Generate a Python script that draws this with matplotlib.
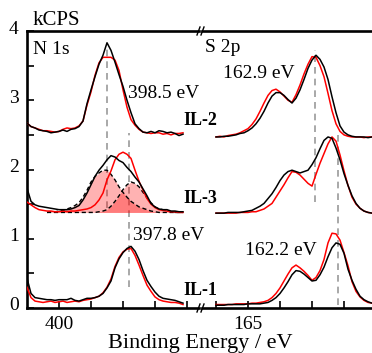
import matplotlib
matplotlib.use('Agg')
import matplotlib.pyplot as plt
from matplotlib.lines import Line2D
from matplotlib.transforms import ScaledTranslation

plt.rcParams['font.family'] = ['Liberation Serif', 'DejaVu Serif']

# Binding energy grids (eV)
n1s_energy = [401.0, 400.875, 400.75, 400.625, 400.5, 400.375, 400.25, 400.125, 400.0, 399.875,
              399.75, 399.625, 399.5, 399.375, 399.25, 399.125, 399.0, 398.875, 398.75, 398.625,
              398.5, 398.375, 398.25, 398.125, 398.0, 397.875, 397.75, 397.625, 397.5, 397.375,
              397.25, 397.125, 397.0, 396.875, 396.75, 396.625, 396.5, 396.375, 396.25, 396.125]
s2p_energy = [166.0, 165.875, 165.75, 165.625, 165.5, 165.375, 165.25, 165.125, 165.0, 164.875,
              164.75, 164.625, 164.5, 164.375, 164.25, 164.125, 164.0, 163.875, 163.75, 163.625,
              163.5, 163.375, 163.25, 163.125, 163.0, 162.875, 162.75, 162.625, 162.5, 162.375,
              162.25, 162.125, 162.0, 161.875, 161.75, 161.625, 161.5, 161.375, 161.25, 161.125]

# N 1s spectra (kCPS, stacked)
n1s_il2_black = [2.67, 2.62, 2.60, 2.57, 2.56, 2.55, 2.53, 2.54, 2.55, 2.57,
                 2.55, 2.58, 2.59, 2.62, 2.70, 2.95, 3.15, 3.34, 3.52, 3.65,
                 3.83, 3.72, 3.55, 3.37, 3.20, 3.00, 2.82, 2.66, 2.59, 2.54,
                 2.53, 2.55, 2.53, 2.56, 2.55, 2.53, 2.54, 2.52, 2.49, 2.51]
n1s_il2_red = [2.67, 2.62, 2.60, 2.58, 2.56, 2.56, 2.55, 2.54, 2.55, 2.58,
               2.60, 2.59, 2.60, 2.63, 2.70, 2.93, 3.12, 3.36, 3.54, 3.62,
               3.62, 3.62, 3.58, 3.43, 3.15, 2.90, 2.72, 2.64, 2.58, 2.54,
               2.53, 2.52, 2.53, 2.53, 2.51, 2.52, 2.50, 2.52, 2.52, 2.53]
n1s_il3_black = [1.73, 1.54, 1.49, 1.47, 1.46, 1.45, 1.44, 1.43, 1.42, 1.42,
                 1.42, 1.43, 1.45, 1.48, 1.56, 1.66, 1.78, 1.90, 1.99, 2.06,
                 2.14, 2.20, 2.18, 2.13, 2.10, 2.03, 1.97, 1.89, 1.82, 1.72,
                 1.62, 1.51, 1.46, 1.43, 1.42, 1.42, 1.40, 1.40, 1.39, 1.39]
n1s_il3_red = [1.53, 1.49, 1.45, 1.42, 1.41, 1.40, 1.40, 1.39, 1.39, 1.40,
               1.39, 1.40, 1.40, 1.41, 1.42, 1.43, 1.45, 1.49, 1.56, 1.66,
               1.85, 1.98, 2.14, 2.22, 2.25, 2.22, 2.16, 1.99, 1.83, 1.70,
               1.58, 1.50, 1.45, 1.42, 1.41, 1.40, 1.39, 1.39, 1.38, 1.38]
n1s_il1_black = [0.43, 0.21, 0.15, 0.14, 0.13, 0.12, 0.12, 0.11, 0.12, 0.12,
                 0.12, 0.14, 0.11, 0.10, 0.12, 0.14, 0.14, 0.15, 0.17, 0.21,
                 0.29, 0.39, 0.58, 0.71, 0.80, 0.86, 0.89, 0.82, 0.70, 0.54,
                 0.40, 0.31, 0.23, 0.17, 0.14, 0.13, 0.12, 0.11, 0.09, 0.07]
n1s_il1_red = [0.30, 0.15, 0.10, 0.09, 0.08, 0.09, 0.10, 0.08, 0.09, 0.10,
               0.08, 0.09, 0.10, 0.09, 0.11, 0.12, 0.13, 0.15, 0.17, 0.22,
               0.30, 0.42, 0.60, 0.73, 0.81, 0.85, 0.86, 0.76, 0.62, 0.47,
               0.33, 0.24, 0.16, 0.12, 0.10, 0.09, 0.08, 0.08, 0.07, 0.05]

# IL-3 N 1s fit components
fit_energy = n1s_energy[5:]
fit_baseline = 1.38
fit_comp1 = [1.38, 1.39, 1.39, 1.40, 1.41, 1.43, 1.45, 1.48, 1.52, 1.60,
             1.70, 1.82, 1.90, 1.95, 1.99, 1.99, 1.93, 1.85, 1.75, 1.67,
             1.60, 1.54, 1.50, 1.46, 1.44, 1.42, 1.40, 1.39, 1.38, 1.38,
             1.38, 1.38, 1.38, 1.38, 1.38]
fit_comp2 = [1.38, 1.38, 1.38, 1.38, 1.38, 1.38, 1.38, 1.38, 1.38, 1.38,
             1.38, 1.38, 1.38, 1.39, 1.40, 1.42, 1.47, 1.54, 1.62, 1.71,
             1.78, 1.82, 1.80, 1.75, 1.67, 1.59, 1.52, 1.46, 1.43, 1.42,
             1.40, 1.39, 1.38, 1.38, 1.38]

# S 2p spectra
s2p_il2_black = [2.47, 2.47, 2.48, 2.48, 2.49, 2.50, 2.52, 2.53, 2.56, 2.60,
                 2.66, 2.74, 2.84, 2.96, 3.06, 3.11, 3.11, 3.07, 3.01, 2.96,
                 3.03, 3.15, 3.30, 3.46, 3.58, 3.65, 3.59, 3.48, 3.30, 3.05,
                 2.82, 2.63, 2.54, 2.50, 2.48, 2.47, 2.47, 2.47, 2.46, 2.47]
s2p_il2_red = [2.47, 2.48, 2.47, 2.49, 2.50, 2.51, 2.53, 2.56, 2.59, 2.65,
               2.73, 2.84, 2.96, 3.07, 3.14, 3.16, 3.12, 3.06, 3.00, 2.97,
               3.08, 3.22, 3.38, 3.52, 3.63, 3.62, 3.50, 3.34, 3.10, 2.85,
               2.66, 2.55, 2.50, 2.48, 2.47, 2.47, 2.47, 2.46, 2.47, 2.47]
s2p_il3_black = [1.37, 1.37, 1.37, 1.38, 1.38, 1.38, 1.38, 1.39, 1.40, 1.41,
                 1.44, 1.47, 1.51, 1.58, 1.65, 1.74, 1.84, 1.92, 1.97, 1.99,
                 1.97, 1.95, 1.97, 1.99, 2.07, 2.17, 2.30, 2.42, 2.47, 2.45,
                 2.31, 2.14, 1.94, 1.77, 1.62, 1.51, 1.44, 1.40, 1.38, 1.37]
s2p_il3_red = [1.37, 1.37, 1.37, 1.37, 1.37, 1.37, 1.38, 1.38, 1.38, 1.39,
               1.39, 1.41, 1.43, 1.47, 1.51, 1.60, 1.69, 1.78, 1.88, 1.97,
               1.96, 1.92, 1.86, 1.80, 1.76, 1.93, 2.09, 2.23, 2.37, 2.47,
               2.41, 2.21, 1.98, 1.77, 1.60, 1.50, 1.44, 1.40, 1.38, 1.37]
s2p_il1_black = [0.04, 0.04, 0.04, 0.05, 0.05, 0.05, 0.05, 0.05, 0.06, 0.06,
                 0.06, 0.06, 0.07, 0.08, 0.11, 0.15, 0.21, 0.29, 0.38, 0.48,
                 0.54, 0.53, 0.49, 0.44, 0.39, 0.40, 0.48, 0.59, 0.74, 0.87,
                 0.94, 0.92, 0.79, 0.56, 0.40, 0.27, 0.17, 0.12, 0.09, 0.07]
s2p_il1_red = [0.05, 0.05, 0.05, 0.05, 0.05, 0.06, 0.06, 0.06, 0.06, 0.07,
               0.07, 0.08, 0.09, 0.11, 0.15, 0.21, 0.29, 0.39, 0.49, 0.58,
               0.62, 0.58, 0.53, 0.47, 0.40, 0.44, 0.54, 0.70, 0.94, 1.08,
               1.07, 0.98, 0.80, 0.61, 0.38, 0.24, 0.16, 0.11, 0.08, 0.07]

# peak position markers: energy and vertical extent
n1s_marks = [398.5, 397.8]
n1s_mark_spans = [(1.45, 3.78), (0.30, 2.52)]
s2p_marks = [162.9, 162.2]
s2p_mark_spans = [(1.53, 3.72), (0.04, 2.52)]

W, H = 372, 353


def fx(px):
    return px / W


def fy(py):
    return 1 - py / H


fig = plt.figure(figsize=(W / 100, H / 100), dpi=100)
ax1 = fig.add_axes([fx(27), fy(308), fx(199) - fx(27), fy(31) - fy(308)])
ax2 = fig.add_axes([fx(202), fy(308), fx(372) - fx(202), fy(31) - fy(308)], sharey=ax1)

lw = 1.1
mark_style = dict(color='#999999', lw=1.2, ls=(0, (4, 3)))

# N 1s panel
for e, (y0, y1) in zip(n1s_marks, n1s_mark_spans):
    ax1.plot([e, e], [y0, y1], zorder=1, **mark_style)
ax1.fill_between(fit_energy, fit_baseline, fit_comp1, color='red', alpha=0.3, lw=0, zorder=2)
ax1.fill_between(fit_energy, fit_baseline, fit_comp2, color='red', alpha=0.3, lw=0, zorder=2)
ax1.plot(fit_energy, fit_comp1, color='black', lw=1.0, ls=(0, (3, 2)), zorder=3)
ax1.plot(fit_energy, fit_comp2, color='black', lw=1.0, ls=(0, (3, 2)), zorder=3)
for red, black in [(n1s_il2_red, n1s_il2_black), (n1s_il3_red, n1s_il3_black),
                   (n1s_il1_red, n1s_il1_black)]:
    ax1.plot(n1s_energy, red, color='red', lw=lw, zorder=4)
    ax1.plot(n1s_energy, black, color='black', lw=lw, zorder=5)

# S 2p panel
for e, (y0, y1) in zip(s2p_marks, s2p_mark_spans):
    ax2.plot([e, e], [y0, y1], zorder=1, **mark_style)
for red, black in [(s2p_il2_red, s2p_il2_black), (s2p_il3_red, s2p_il3_black),
                   (s2p_il1_red, s2p_il1_black)]:
    ax2.plot(s2p_energy, red, color='red', lw=lw, zorder=4)
    ax2.plot(s2p_energy, black, color='black', lw=lw, zorder=5)

ax1.set_xlim(401.0, 395.625)
ax2.set_xlim(166.4375, 161.125)
ax1.set_ylim(0, 4)

ax1.set_xticks([400])
ax1.set_xticks([399, 398, 397, 396], minor=True)
ax2.set_xticks([165])
ax2.set_xticks([166, 164, 163, 162], minor=True)
ax1.set_yticks([0, 1, 2, 3, 4])
ax1.set_yticks([0.5, 1.5, 2.5, 3.5], minor=True)

for ax in (ax1, ax2):
    ax.tick_params(which='both', direction='in', length=5, width=1.2,
                   top=False, right=False, labelsize=14)
    ax.tick_params(axis='x', pad=6)
    for s in ax.spines.values():
        s.set_linewidth(1.9)
    ax.spines['right'].set_visible(False)
    ax.set_facecolor('none')
ax2.spines['left'].set_visible(False)
ax2.tick_params(axis='y', which='both', left=False, labelleft=False)
ax1.tick_params(axis='y', pad=6)

shift = ScaledTranslation(0, 0.04, fig.dpi_scale_trans)
for lab in ax1.get_yticklabels():
    lab.set_transform(lab.get_transform() + shift)

# axis break marks
for py in (31, 308):
    for px in (198.5, 202.5):
        fig.add_artist(Line2D([fx(px - 1.5), fx(px + 1.5)], [fy(py + 4), fy(py - 4)],
                              color='black', lw=1.0))

fig.text(fx(33), fy(25), 'kCPS', fontsize=15, va='baseline')
fig.text(fx(33), fy(54), 'N 1s', fontsize=14, va='baseline')
fig.text(fx(205), fy(52), 'S 2p', fontsize=14, va='baseline')
fig.text(fx(128), fy(98), '398.5 eV', fontsize=14, va='baseline')
fig.text(fx(223), fy(78), '162.9 eV', fontsize=14, va='baseline')
fig.text(fx(133), fy(240), '397.8 eV', fontsize=14, va='baseline')
fig.text(fx(245), fy(255), '162.2 eV', fontsize=14, va='baseline')
fig.text(fx(183), fy(125), 'IL-2', fontsize=13, fontweight='bold', va='baseline')
fig.text(fx(183), fy(203), 'IL-3', fontsize=13, fontweight='bold', va='baseline')
fig.text(fx(183), fy(295), 'IL-1', fontsize=13, fontweight='bold', va='baseline')
fig.text(fx(200), fy(334), 'Binding Energy / eV', fontsize=16, ha='center', va='top')

fig.savefig('out.png', dpi=100)
